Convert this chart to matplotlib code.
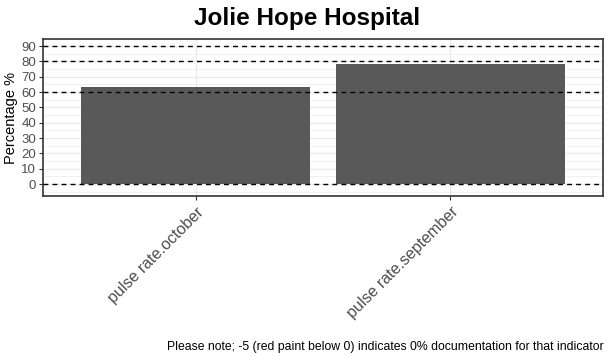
import matplotlib.pyplot as plt
from matplotlib.ticker import MultipleLocator

plt.rcParams["font.family"] = ["Liberation Sans", "DejaVu Sans"]

categories = ["pulse rate.october", "pulse rate.september"]
values = [63.3, 78.3]
ref_lines = [0, 60, 80, 90]

fig = plt.figure(figsize=(6.09, 3.56), dpi=100)
ax = fig.add_axes([43 / 609, 1 - 196 / 356, (603 - 43) / 609, (196 - 39) / 356])

x = list(range(len(categories)))
ax.bar(x, values, width=0.9, color="#595959", zorder=2)
for v in ref_lines:
    ax.axhline(v, color="black", linestyle=(0, (3.5, 3)), linewidth=1.0, zorder=3)

ax.set_xlim(-0.6, 1.6)
ax.set_ylim(-7.8, 94.6)
ax.yaxis.set_major_locator(MultipleLocator(10))
ax.yaxis.set_minor_locator(MultipleLocator(5))
ax.grid(True, which="major", color="#ebebeb", linewidth=1.0, zorder=0)
ax.grid(True, which="minor", axis="y", color="#ebebeb", linewidth=0.5, zorder=0)
ax.set_axisbelow(True)

ax.set_xticks(x)
ax.set_xticklabels(categories, rotation=45, ha="right", va="top",
                   rotation_mode="anchor", fontsize=11.5, color="#4d4d4d")
ax.tick_params(axis="y", which="major", labelsize=9.5, labelcolor="#4d4d4d",
               color="#333333", length=3, pad=2)
ax.tick_params(axis="y", which="minor", length=0)
ax.tick_params(axis="x", color="#333333", length=3, pad=3)
for s in ax.spines.values():
    s.set_color("#333333")
    s.set_linewidth(1.2)

ax.set_ylabel("Percentage %", fontsize=10.5, labelpad=2)
fig.text(307 / 609, 1 - 18 / 356, "Jolie Hope Hospital", ha="center", va="center",
         fontsize=17.5, fontweight="bold")
fig.text(604 / 609, 1 - 347 / 356,
         "Please note; -5 (red paint below 0) indicates 0% documentation for that indicator",
         ha="right", va="center", fontsize=8.8)

fig.savefig("out.png", dpi=100, facecolor="white")
